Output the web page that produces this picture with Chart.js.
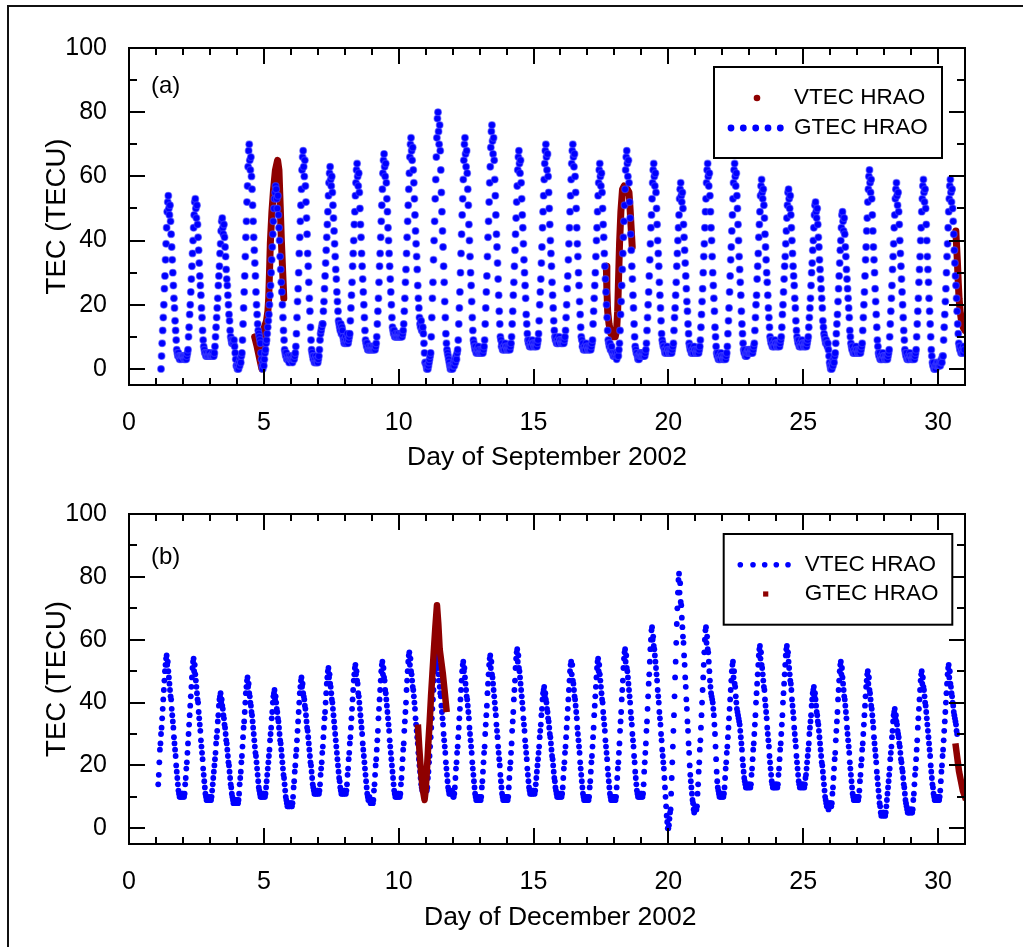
<!DOCTYPE html>
<html>
<head>
<meta charset="utf-8">
<title>TEC at HRAO, September and December 2002</title>
<script src="https://cdn.jsdelivr.net/npm/chart.js@4.4.1/dist/chart.umd.min.js"></script>
<style>
  html, body { margin: 0; padding: 0; background: #fff; overflow: hidden; }
  #frame {
    position: absolute; left: 7px; top: 5px; width: 1100px; height: 1000px;
    border-left: 2px solid #111; border-top: 2px solid #111;
  }
  .panel { position: absolute; left: 0; }
  #panelA { top: 0; }
  #panelB { top: 480px; }
</style>
</head>
<body>
<div id="frame"></div>
<div class="panel" id="panelA"><canvas id="chartSep" width="1023" height="480"></canvas></div>
<div class="panel" id="panelB"><canvas id="chartDec" width="1023" height="467"></canvas></div>
<script>
// ── Data ──────────────────────────────────────────────────────────
// Blue series: one row per day, half-hourly samples (k -> day + k/48), TECU
const PER_DAY = 48;
const FIRST_DAY = 1;

// (a) GTEC HRAO, September 2002
const sepGtec = [
  [null,null,null,null,null,null,null,null,null, 0,4,8,12,16,20,25,29,34,39,44, 49,52,54,50,48,51, 46,42,38,34,30,26,22,19,15,12,9,6, 5,4,5,4,3,4,4,3,4,4],
  [4,4,3,4,3,4,3,4,5, 6,10,13,17,20,24,28,32,36,40,44, 48,52,53,50,47,51, 45,41,37,33,29,26,23,19,16,12,9,7, 6,5,5,4,4,5,4,4,5,4],
  [5,4,4,4,4,5,4,4,5, 7,10,13,16,19,22,26,29,32,36,39, 43,46,47,44,42,45, 41,38,35,31,28,26,23,20,17,15,12,10, 9,8,9,8,8,9,7,5,3,1],
  [1,0,1,0,2,1,3,2,4, 5,9,14,19,24,29,35,41,46,52,57, 63,68,70,65,62,66, 60,56,51,46,41,37,33,29,24,20,17,14, 12,11,10,9,8,5,3,1,0,2],
  [1,3,5,6,8,9,11,13,15, 17,20,23,26,30,34,38,42,46,50,53, 55,57,56,53,50,54, 48,44,40,35,31,27,24,20,16,12,9,6, 5,4,5,3,3,4,3,2,4,3],
  [3,4,3,2,3,4,3,4,5, 7,11,16,21,25,30,36,41,46,51,56, 62,66,68,63,60,65, 57,52,47,42,36,32,27,22,18,13,9,6, 5,4,3,4,2,3,2,4,3,2],
  [2,3,4,6,9,11,12,13,14, 14,18,21,25,29,33,37,41,45,49,54, 58,61,63,59,57,60, 55,51,47,43,39,35,31,28,24,21,18,15, 14,13,12,14,11,13,12,10,9,8],
  [9,8,10,8,9,11,8,9,10, 11,15,19,23,27,32,36,40,45,49,54, 58,62,64,60,57,61, 55,50,45,41,36,32,28,24,20,16,12,9, 8,7,8,6,6,7,6,6,7,6],
  [7,6,6,7,6,7,6,7,8, 10,14,18,22,27,32,36,41,46,51,56, 61,65,67,63,60,64, 58,53,49,44,40,36,32,28,24,20,16,13, 12,11,12,10,10,11,10,10,11,10],
  [11,10,10,11,10,11,10,11,12, 14,18,22,27,31,36,41,46,51,56,61, 66,70,72,68,65,69, 62,58,53,48,43,39,35,31,26,22,19,16, 14,13,15,12,12,13,11,8,5,2],
  [2,1,0,1,0,1,2,3,4, 5,10,16,22,27,34,40,46,53,59,66, 72,78,80,74,70,76, 68,62,55,49,43,38,32,27,21,16,11,8, 6,5,4,3,2,1,0,1,0,1],
  [0,1,2,1,3,2,4,3,5, 6,9,14,19,24,30,36,42,48,53,59, 65,70,72,67,63,68, 61,56,51,45,40,35,30,26,21,16,12,9, 8,7,6,7,5,6,5,6,7,5],
  [6,5,5,6,5,6,5,6,7, 9,14,19,24,29,35,41,46,52,58,63, 69,74,76,71,67,72, 65,59,54,48,42,38,33,28,23,18,14,10, 9,7,8,6,6,7,6,6,8,7],
  [7,6,6,7,6,7,6,7,8, 10,14,18,23,27,32,37,42,47,52,57, 62,66,68,64,61,65, 58,53,48,44,39,34,30,26,22,17,14,11, 9,8,9,7,7,8,7,7,9,8],
  [8,7,7,8,7,8,7,8,9, 11,15,20,24,28,33,38,44,49,54,59, 64,68,70,66,62,67, 60,55,50,45,40,36,32,27,23,19,15,12, 10,9,10,8,8,9,8,8,10,9],
  [9,8,8,9,8,9,8,9,10, 12,16,20,25,29,34,39,44,49,54,59, 64,68,70,66,63,67, 60,55,50,44,39,35,30,26,21,17,13,10, 9,7,8,6,6,7,6,6,8,7],
  [7,6,6,7,6,7,6,7,8, 9,14,18,22,26,30,35,40,44,49,54, 58,62,64,60,57,61, 55,50,45,41,36,32,28,24,20,16,12,9, 8,7,8,6,6,7,5,5,4,4],
  [5,4,4,5,3,4,5,4,6, 8,12,17,21,26,31,36,41,46,51,56, 62,66,68,64,60,65, 58,52,47,42,37,32,28,23,19,14,10,7, 6,5,5,4,3,4,3,4,5,4],
  [5,4,4,5,4,5,4,5,6, 8,12,16,20,24,29,34,39,44,48,53, 58,62,64,60,57,61, 55,50,45,40,36,32,27,23,19,15,11,9, 8,7,7,6,5,6,5,5,7,6],
  [6,5,5,6,5,6,5,6,7, 8,12,16,19,23,27,32,36,40,44,48, 53,56,58,54,52,55, 50,45,41,37,33,29,25,21,18,14,11,8, 7,6,7,5,5,6,5,5,7,6],
  [6,5,5,6,5,6,5,6,7, 9,13,17,21,25,30,35,39,44,49,53, 58,62,64,60,57,61, 54,49,44,40,35,30,26,22,18,13,10,7, 5,4,5,3,3,4,3,3,5,4],
  [4,3,3,4,3,4,3,4,5, 7,11,15,19,24,29,34,38,43,48,53, 58,62,64,60,57,61, 54,50,45,40,35,31,27,23,18,14,11,8, 6,5,6,4,4,5,4,5,6,5],
  [6,5,5,6,5,6,5,6,7, 8,12,16,20,23,28,32,36,41,45,49, 54,57,59,55,53,56, 51,47,42,38,34,30,27,23,19,16,13,10, 9,8,9,7,7,8,7,7,9,8],
  [8,7,7,8,7,8,7,8,9, 10,13,17,20,24,28,32,35,39,43,47, 51,55,56,53,50,54, 48,44,40,36,32,29,26,22,19,15,12,10, 9,8,9,7,7,8,7,7,9,8],
  [8,7,7,8,7,8,7,8,9, 10,13,16,19,22,26,30,33,37,40,44, 48,51,52,49,47,50, 45,41,38,34,31,28,25,22,19,15,13,11, 10,9,8,9,8,7,8,6,4,2],
  [1,0,1,0,2,1,3,2,4, 5,8,11,14,17,21,25,29,33,37,40, 44,48,49,46,43,47, 42,38,35,31,28,25,22,19,16,12,10,8, 7,6,7,5,5,6,5,5,7,6],
  [6,5,5,6,5,6,5,6,7, 8,12,16,20,24,29,34,38,43,47,52, 56,60,62,58,55,59, 53,48,43,38,34,30,25,21,17,13,9,7, 5,4,5,3,3,4,3,3,5,4],
  [4,3,3,4,3,4,3,4,5, 6,10,14,18,22,26,31,35,39,44,48, 53,56,58,54,51,55, 49,45,40,36,32,28,24,20,16,12,9,6, 5,4,5,3,3,4,3,3,5,4],
  [4,3,3,4,3,4,3,4,5, 6,10,14,18,22,27,31,35,40,44,49, 53,57,59,55,52,56, 50,45,40,35,31,27,22,18,14,10,6,4, 2,1,2,0,0,1,0,1,2,1],
  [2,1,1,2,1,2,3,2,4, 4,9,13,17,21,25,30,35,39,44,49, 53,57,59,55,52,56, 50,46,42,37,33,29,26,22,18,14,11,8, 7,6,7,5,5,6,5,5,7,6],
];

// (a) VTEC HRAO, September 2002 (null splits the passes)
const sepVtecDay = [4.66,4.75,4.85,4.93,4.97,5.02,5.10,5.15,5.18,5.21,5.24,5.30,5.36,5.43,5.51,5.56,5.61,5.65,5.70,5.74, null,
  17.70,17.72,17.75,17.80,17.87,17.95,18.03,18.08,18.12,18.16,18.19,18.24,18.30,18.36,18.42,18.48,18.54,18.58,18.62,18.66, null,
  30.66,30.69,30.72,30.75,30.78,30.82,30.87,30.93,31.00];
const sepVtecTec = [10,7,3,0,6,13,15,18,22,30,39,49,56,62,65,62,50,40,30,22, null,
  32,25,18,14,11,10,10,12,18,30,39,49,56,57,55,56,55,50,44,38, null,
  43,38,33,27,22,18,15,13,12];

// (b) VTEC HRAO, December 2002
const decVtec = [
  [null,null,null,null, 14,17,21,25,27,30,32,35,38,41,44,47,50,52,54, 55,52,53,50, 48,46,44,42,41,38,36,34,32,29,27,25,23,20,18,16,14,12, 11,10,10,11,10,10,11],
  [11,10,10,11, 14,16,19,21,24,27,30,33,36,39,42,45,48,51,53, 54,50,52,49, 47,45,43,41,40,37,35,33,31,28,26,24,22,19,17,15,13,11, 10,9,9,10,9,9,10],
  [10,9,9,10, 12,14,16,18,20,22,24,27,29,31,34,36,39,41,42, 43,40,41,39, 38,36,35,33,32,30,28,27,25,23,21,20,18,16,14,13,11,10, 9,8,8,9,8,8,9],
  [9,8,8,9, 11,14,16,18,21,23,26,29,32,34,37,40,43,45,47, 48,45,46,43, 42,40,39,37,36,34,32,30,28,26,24,23,21,19,17,15,13,12, 11,10,10,11,10,10,11],
  [11,10,10,11, 13,15,17,19,21,23,25,28,30,32,35,37,40,42,43, 44,41,42,40, 38,37,35,34,32,30,28,27,25,23,21,19,17,16,14,12,10,9, 8,7,7,8,7,7,8],
  [8,7,7,8, 10,13,15,18,20,23,25,28,31,34,37,40,43,45,47, 48,45,46,43, 42,41,39,38,36,34,32,31,29,27,25,23,21,20,18,16,14,13, 12,11,11,12,11,11,12],
  [12,11,11,12, 14,17,19,21,24,26,29,32,35,37,40,43,46,48,50, 51,48,49,46, 45,43,41,40,38,36,34,32,30,28,26,24,22,20,18,16,15,13, 12,11,11,12,11,11,12],
  [12,11,11,12, 14,17,19,22,24,27,29,32,35,38,41,44,47,49,51, 52,49,50,47, 46,43,42,40,38,36,34,32,30,27,25,23,21,19,17,15,13,11, 10,9,9,10,9,8,9],
  [9,8,8,9, 12,14,17,20,22,25,28,31,35,38,41,44,47,50,52, 53,49,51,48, 47,44,43,41,39,37,35,33,31,28,26,24,22,20,18,16,14,12, 11,10,10,11,10,10,11],
  [11,10,10,11, 14,16,19,22,25,27,31,34,37,40,44,47,50,53,55, 56,52,54,50, 49,47,45,44,42,40,38,35,33,31,29,27,24,22,20,18,16,14, 13,12,12,13,12,12,13],
  [13,12,12,13, 16,18,21,23,26,29,32,35,38,41,44,47,50,53,55, 56,52,54,51, 49,47,45,43,42,39,37,35,33,30,28,26,24,21,19,17,15,13, 12,11,11,12,11,11,12],
  [11,10,10,11, 13,16,19,21,24,26,29,32,35,38,41,44,47,50,52, 53,50,51,48, 46,44,42,41,39,37,35,32,30,28,26,24,21,19,17,15,13,11, 10,9,9,10,9,9,10],
  [10,9,9,10, 13,15,18,21,24,26,30,33,36,39,43,46,49,52,54, 55,51,53,49, 48,46,44,42,40,38,36,33,31,29,26,24,22,20,17,15,13,11, 10,9,9,10,9,9,10],
  [10,9,9,10, 13,16,19,21,24,27,31,34,37,41,44,47,51,54,56, 57,53,55,51, 50,48,46,44,42,40,38,35,33,31,28,26,24,22,19,17,15,13, 12,11,11,12,11,11,12],
  [12,11,11,12, 14,16,18,20,22,24,26,29,31,33,36,38,41,43,44, 45,42,43,41, 40,38,37,35,34,32,30,29,27,25,23,22,20,18,16,15,13,12, 11,10,10,11,10,10,11],
  [11,10,10,11, 13,16,19,21,24,26,29,32,35,38,41,44,47,50,52, 53,49,52,47, 46,44,42,41,39,37,35,32,30,28,26,24,21,19,17,15,13,11, 10,9,9,10,9,9,10],
  [10,9,9,10, 13,15,18,21,23,26,29,32,36,39,42,45,48,51,53, 54,50,52,49, 47,45,43,41,40,37,35,33,31,28,26,24,22,19,17,15,13,11, 10,9,9,10,9,9,10],
  [10,9,9,10, 13,16,19,21,24,27,31,34,37,41,44,47,51,54,56, 57,53,55,51, 50,48,46,44,42,40,37,35,33,30,28,26,23,21,18,16,14,12, 11,10,10,11,10,10,11],
  [11,10,10,11, 14,18,21,24,27,31,34,38,42,46,49,53,57,60,63, 64,60,61,58, 57,55,53,51,49,47,44,42,40,37,35,33,30,28,25,23,21,19, 16,13,10,7,4,2,0],
  [0,1,3,5, 6,11,16,21,26,31,36,42,48,53,59,65,70,75,79, 81,75,78,72, 71,67,64,61,59,55,52,48,45,41,38,34,31,27,24,20,17,15, 13,11,9,8,6,5,6],
  [7,6,6,7, 11,14,18,21,25,28,32,36,40,44,48,52,56,60,63, 64,59,61,57, 56,53,50,47,45,43,42,41,40,38,36,33,30,26,22,18,15,13, 12,11,10,11,10,10,11],
  [11,10,10,11, 13,16,19,21,24,26,29,32,35,38,41,44,47,50,52, 53,48,50,46, 45,42,40,38,37,36,35,34,33,31,29,27,25,22,20,18,16,15, 14,13,13,14,13,13,14],
  [14,13,13,14, 17,19,22,25,27,30,33,36,40,43,46,49,52,55,57, 58,54,56,52, 51,49,47,45,44,41,39,37,35,32,30,28,26,23,21,19,17,15, 14,13,13,14,13,13,14],
  [14,13,13,14, 17,19,22,25,27,30,33,36,40,43,46,49,52,55,57, 58,55,56,53, 51,49,47,46,44,41,39,37,35,32,30,28,26,23,21,19,17,15, 14,13,14,13,14,13,14],
  [14,13,13,14, 16,17,19,21,23,25,27,30,32,34,36,39,41,43,44, 45,42,43,41, 39,37,36,34,33,31,29,27,25,23,21,20,18,16,14,12,10,9, 8,7,7,8,6,7,8],
  [8,7,7,8, 11,13,16,19,22,24,28,31,34,37,41,44,47,50,52, 53,49,51,48, 46,44,42,41,39,37,35,32,30,28,26,24,21,19,17,15,13,11, 10,9,9,10,9,9,10],
  [10,9,9,10, 12,15,17,20,22,25,27,30,33,36,39,42,45,47,49, 50,46,48,44, 43,41,39,38,36,34,32,29,27,25,23,21,18,16,14,12,10,8, 7,5,4,5,4,5,5],
  [5,4,4,5, 7,9,11,13,15,17,19,22,24,26,29,31,34,36,37, 38,35,36,34, 33,31,30,29,27,26,24,22,21,19,18,16,14,13,11,9,8,7, 6,5,5,6,5,5,6],
  [6,5,5,6, 9,11,14,17,19,22,25,28,32,35,38,41,44,47,49, 50,46,48,45, 44,42,40,39,37,35,33,31,29,27,25,23,20,18,16,14,13,11, 10,9,9,10,9,9,10],
  [10,9,9,10, 12,15,18,20,23,25,28,31,34,37,40,43,46,49,51, 52,48,50,46, 45,43,42,40,39,37,36,35,34,33,31,30],
];

// (b) GTEC HRAO, December 2002
const decGtecDay = [10.72,10.76,10.80,10.85,10.90,10.96,11.00,11.05,11.10,11.15,11.20,11.25,11.30,11.36,11.42,11.47,11.52,11.58,11.64,11.70,11.77, null,
  30.66,30.72,30.78,30.85,30.92,31.00];
const decGtecTec = [32,26,21,16,12,9,12,19,27,34,42,49,56,64,71,65,57,53,49,44,38, null,
  26,22,18,15,12,10];

// Axis ticks
const X_MIN = 0, X_MAX = 31, X_STEP = 5;
const Y_MIN = -5, Y_MAX = 100, Y_STEP = 20;

// ── Helpers ───────────────────────────────────────────────────────
function rowsToPoints(rows) {
  const pts = [];
  rows.forEach((row, d) => {
    row.forEach((v, k) => {
      if (v !== null) pts.push({ x: FIRST_DAY + d + k / PER_DAY, y: v });
    });
  });
  return pts;
}

function pairsToPoints(days, tec) {
  return days.map((x, i) => (x === null ? { x: days[i - 1], y: null } : { x, y: tec[i] }));
}

Chart.defaults.font.family = '"Liberation Sans", Arial, Helvetica, sans-serif';
Chart.defaults.color = '#000';

const BLUE = '#0000ff';
const DARK_RED = '#8e0000';

// frame round the plot plus inward tick marks on all four sides
const frameTicks = {
  id: 'frameTicks',
  afterDatasetsDraw(chart) {
    const { ctx, chartArea: a, scales: { x, y } } = chart;
    ctx.save();
    ctx.strokeStyle = '#000';
    ctx.lineWidth = 2;
    ctx.beginPath();
    for (let d = X_MIN + 1; d < X_MAX; d++) {
      const px = Math.round(x.getPixelForValue(d));
      const len = d % X_STEP === 0 ? 16 : 7;
      ctx.moveTo(px, a.bottom); ctx.lineTo(px, a.bottom - len);
      ctx.moveTo(px, a.top);    ctx.lineTo(px, a.top + len);
    }
    for (let v = 0; v < Y_MAX; v += Y_STEP / 2) {
      const py = Math.round(y.getPixelForValue(v));
      const len = v % Y_STEP === 0 ? 16 : 8;
      ctx.moveTo(a.left, py);  ctx.lineTo(a.left + len, py);
      ctx.moveTo(a.right, py); ctx.lineTo(a.right - len, py);
    }
    ctx.stroke();
    ctx.strokeRect(a.left, a.top, a.right - a.left, a.bottom - a.top);
    ctx.restore();
  }
};

// boxed legend inside the plot, top right
function insetLegend(box, rows) {
  return {
    id: 'insetLegend',
    afterDraw(chart) {
      const { ctx, chartArea: a } = chart;
      const left = a.right - box.right - box.width;
      const top = a.top + box.top;
      ctx.save();
      ctx.fillStyle = '#fff';
      ctx.fillRect(left, top, box.width, box.height);
      ctx.lineWidth = 2;
      ctx.strokeStyle = '#000';
      ctx.strokeRect(left, top, box.width, box.height);
      ctx.font = box.font;
      ctx.textBaseline = 'middle';
      rows.forEach(r => {
        const ds = chart.data.datasets[r.dataset];
        const cy = top + r.y;
        ctx.fillStyle = ds.swatch;
        r.marks.forEach(mx => {
          if (r.shape === 'square') {
            ctx.fillRect(left + mx - r.size, cy - r.size, r.size * 2, r.size * 2);
          } else {
            ctx.beginPath();
            ctx.arc(left + mx, cy, r.size, 0, Math.PI * 2);
            ctx.fill();
          }
        });
        ctx.fillStyle = '#000';
        ctx.fillText(ds.label, left + box.textX, cy);
      });
      ctx.restore();
    }
  };
}

// panel letter, top left of the plot
function panelTag(text, dy) {
  return {
    id: 'panelTag',
    afterDraw(chart) {
      const { ctx, chartArea: a } = chart;
      ctx.save();
      ctx.font = '24px "Liberation Sans", Arial, sans-serif';
      ctx.fillStyle = '#000';
      ctx.textBaseline = 'middle';
      ctx.fillText(text, a.left + 22, a.top + dy);
      ctx.restore();
    }
  };
}

function makeChart(id, cfg) {
  return new Chart(document.getElementById(id), {
    type: 'scatter',
    data: { datasets: cfg.datasets },
    options: {
      responsive: false,
      animation: false,
      events: [],
      layout: { padding: cfg.padding },
      plugins: { legend: { display: false }, tooltip: { enabled: false } },
      scales: {
        x: {
          type: 'linear', min: X_MIN, max: X_MAX,
          afterFit: s => { s.height = cfg.xHeight; },
          grid: { display: false }, border: { display: false },
          ticks: { stepSize: X_STEP, includeBounds: false, padding: 15, font: { size: 25 } },
          title: { display: true, text: cfg.xTitle, font: { size: 26.5 }, padding: { top: 0, bottom: cfg.xTitlePad } }
        },
        y: {
          type: 'linear', min: Y_MIN, max: Y_MAX,
          afterFit: s => { s.width = 129; },
          grid: { display: false }, border: { display: false },
          ticks: { stepSize: Y_STEP, includeBounds: false, padding: 14, font: { size: 25 } },
          title: { display: true, text: 'TEC (TECU)', font: { size: 27.5 }, padding: { top: 40.5, bottom: 0 } }
        }
      }
    },
    plugins: [frameTicks, insetLegend(cfg.legendBox, cfg.legendRows), panelTag(cfg.tag, cfg.tagY)]
  });
}

// ── (a) September ─────────────────────────────────────────────────
makeChart('chartSep', {
  padding: { top: 48, right: 58, left: 0, bottom: 0 },
  xHeight: 95,
  xTitle: 'Day of September 2002',
  xTitlePad: 6,
  tag: '(a)', tagY: 38,
  datasets: [
    {
      label: 'GTEC HRAO', data: rowsToPoints(sepGtec), order: 0, swatch: BLUE,
      pointRadius: 3.4, pointBackgroundColor: BLUE,
      pointBorderColor: 'rgba(70,70,255,0.55)', pointBorderWidth: 1.2
    },
    {
      label: 'VTEC HRAO', data: pairsToPoints(sepVtecDay, sepVtecTec), order: 1, swatch: DARK_RED,
      showLine: true, spanGaps: false, borderColor: DARK_RED, borderWidth: 7,
      borderCapStyle: 'round', borderJoinStyle: 'round', pointRadius: 0
    }
  ],
  legendBox: { right: 23, top: 19, width: 228, height: 91, textX: 80, font: '22.5px "Liberation Sans", Arial, sans-serif' },
  legendRows: [
    { dataset: 1, y: 31, marks: [43], shape: 'dot', size: 3.3 },
    { dataset: 0, y: 61, marks: [17, 29.3, 41.7, 54, 66.3], shape: 'dot', size: 3.4 }
  ]
});

// ── (b) December ──────────────────────────────────────────────────
makeChart('chartDec', {
  padding: { top: 34, right: 58, left: 0, bottom: 0 },
  xHeight: 103,
  xTitle: '\u2002\u2002Day of December 2002',
  xTitlePad: 13,
  tag: '(b)', tagY: 43,
  datasets: [
    {
      label: 'VTEC HRAO', data: rowsToPoints(decVtec), order: 1, swatch: BLUE,
      pointRadius: 2.9, pointBackgroundColor: BLUE, pointBorderWidth: 0
    },
    {
      label: 'GTEC HRAO', data: pairsToPoints(decGtecDay, decGtecTec), order: 0, swatch: DARK_RED,
      showLine: true, spanGaps: false, borderColor: DARK_RED, borderWidth: 6.5,
      borderCapStyle: 'square', borderJoinStyle: 'round', pointRadius: 0
    }
  ],
  legendBox: { right: 12.7, top: 20, width: 228.6, height: 90.7, textX: 81, font: '22.5px "Liberation Sans", Arial, sans-serif' },
  legendRows: [
    { dataset: 0, y: 30.7, marks: [16.6, 29.3, 41, 52.6, 64.3], shape: 'dot', size: 2.8 },
    { dataset: 1, y: 60, marks: [42], shape: 'square', size: 2.6 }
  ]
});
</script>
</body>
</html>
